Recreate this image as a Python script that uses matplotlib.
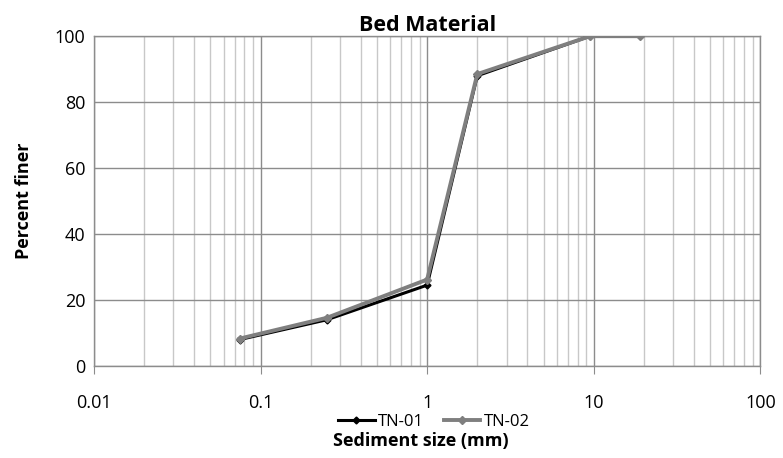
import matplotlib.pyplot as plt
from matplotlib.ticker import LogLocator, FixedLocator, NullFormatter

plt.rcParams['font.family'] = ['Open Sans', 'DejaVu Sans']

# sieve sizes (mm) and percent finer
size_01 = [0.075, 0.25, 1.0, 2.0, 9.5]
finer_01 = [8.0, 14.0, 24.5, 88.0, 100.0]
size_02 = [0.075, 0.25, 1.0, 2.0, 9.5, 19.0]
finer_02 = [8.3, 14.6, 26.2, 88.5, 100.0, 100.0]

fig = plt.figure(figsize=(7.83, 4.58), dpi=100)
ax = fig.add_axes([0.12, 0.201, 0.851, 0.72])

ax.plot(size_01, finer_01, color='black', lw=2.2, marker='D', ms=3.5,
        label='TN-01', zorder=3)
ax.plot(size_02, finer_02, color='#7f7f7f', lw=2.8, marker='D', ms=4,
        label='TN-02', zorder=4)

ax.set_xscale('log')
ax.set_xlim(0.01, 100)
ax.set_ylim(0, 100)
ax.set_yticks([0, 20, 40, 60, 80, 100])
ax.xaxis.set_major_locator(FixedLocator([0.01, 0.1, 1, 10, 100]))
ax.set_xticklabels(['0.01', '0.1', '1', '10', '100'])
ax.xaxis.set_minor_locator(LogLocator(base=10, subs=range(2, 10)))
ax.xaxis.set_minor_formatter(NullFormatter())

ax.grid(True, which='major', color='#8c8c8c', lw=1.0)
ax.grid(True, which='minor', axis='x', color='#c8c8c8', lw=1.0)
ax.set_axisbelow(True)
for s in ax.spines.values():
    s.set_color('#8c8c8c')
    s.set_linewidth(1.0)

ax.tick_params(axis='x', which='major', length=6, color='#8c8c8c',
               labelsize=13, pad=14)
ax.tick_params(axis='x', which='minor', length=0)
ax.tick_params(axis='y', length=0, labelsize=13, pad=6)

ax.set_title('Bed Material', fontsize=15.5, fontweight='bold', pad=3)
ax.set_ylabel('Percent finer', fontsize=13, fontweight='bold')
ax.yaxis.set_label_coords(-0.092, 0.5)
ax.set_xlabel('Sediment size (mm)', fontsize=13, fontweight='bold')
ax.xaxis.set_label_coords(0.49, -0.2)

ax.legend(loc='upper center', bbox_to_anchor=(0.51, -0.12), ncol=2,
          frameon=False, fontsize=12, handlelength=2.2, columnspacing=1.2,
          handletextpad=0.2, borderpad=0)

fig.savefig('out.png', dpi=100)
